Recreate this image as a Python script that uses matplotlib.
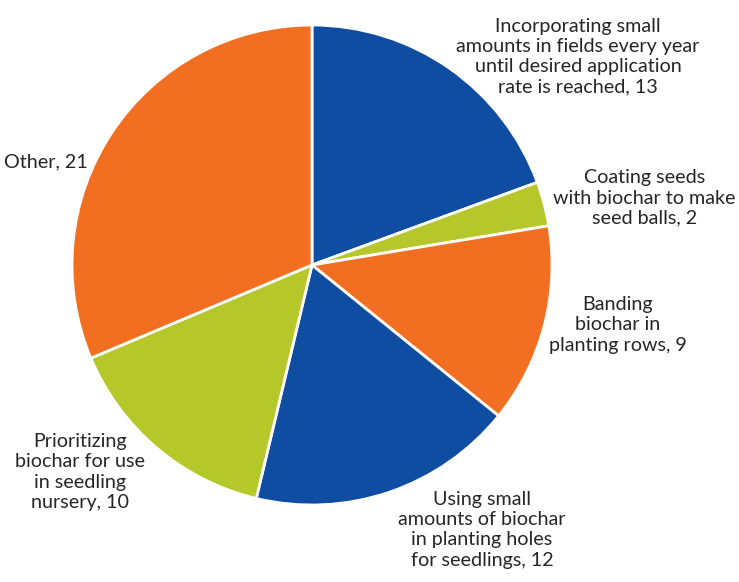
import matplotlib.pyplot as plt

# Data
labels = ["Incorporating small\namounts in fields every year\nuntil desired application\nrate is reached, 13",
          "Coating seeds\nwith biochar to make\nseed balls, 2",
          "Banding\nbiochar in\nplanting rows, 9",
          "Using small\namounts of biochar\nin planting holes\nfor seedlings, 12",
          "Prioritizing\nbiochar for use\nin seedling\nnursery, 10",
          "Other, 21"]
values = [13, 2, 9, 12, 10, 21]
colors = ["#0E4DA2", "#B6C72A", "#F26F22", "#0E4DA2", "#B6C72A", "#F26F22"]

# label positions (pie radius = 1)
label_pos = [(1.108, 0.867), (1.385, 0.279), (1.275, -0.25),
             (0.708, -1.104), (-0.967, -0.8625), (-1.11, 0.429)]

fig = plt.figure(figsize=(7.39, 5.82), dpi=100)
ax = fig.add_axes([72 / 739, 77 / 582, 480 / 739, 480 / 582])

ax.pie(values, colors=colors, startangle=90, counterclock=False,
       wedgeprops=dict(edgecolor="white", linewidth=2))
ax.set_xlim(-1, 1)
ax.set_ylim(-1, 1)

for lab, (x, y) in zip(labels, label_pos):
    ax.text(x, y, lab, ha="center", va="center", fontsize=14.2,
            family="Lato", color="#262626", linespacing=1.22)

fig.savefig("out.png", dpi=100)
